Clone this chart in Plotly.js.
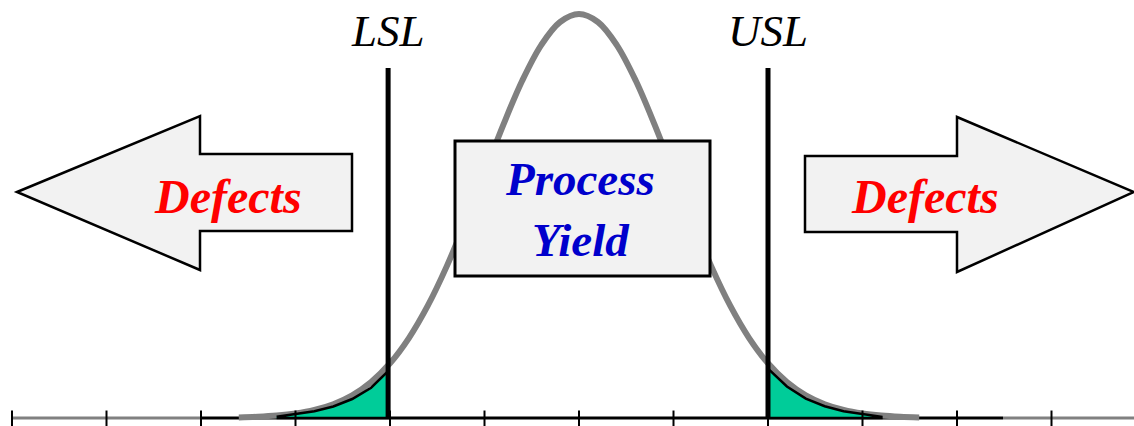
<!DOCTYPE html>
<html>
<head>
<meta charset="utf-8">
<script src="https://cdn.plot.ly/plotly-3.0.1.min.js"></script>
<style>html,body{margin:0;padding:0;background:#fff;}#chart{width:1134px;height:426px;}</style>
</head>
<body>
<div id="chart"></div>
<script>
// ---- data (x in sigma units, y relative to peak height) ----
var curveZ = [-3.6,-3.4,-3.2,-3.0,-2.8,-2.6,-2.4,-2.2,-2.0,-1.8,-1.6,-1.4,-1.2,-1.0,-0.8,-0.6,-0.4,-0.2,0,
              0.2,0.4,0.6,0.8,1.0,1.2,1.4,1.6,1.8,2.0,2.2,2.4,2.6,2.8,3.0,3.2,3.4,3.6];
var curveY = [0.0015,0.0031,0.0060,0.0111,0.0198,0.0340,0.0561,0.0889,0.1353,0.1979,0.2780,0.3753,0.4868,0.6065,0.7261,0.8353,0.9231,0.9802,1.0,
              0.9802,0.9231,0.8353,0.7261,0.6065,0.4868,0.3753,0.2780,0.1979,0.1353,0.0889,0.0561,0.0340,0.0198,0.0111,0.0060,0.0031,0.0015];
var leftTailZ  = [-3.2,-3.0,-2.8,-2.6,-2.4,-2.2,-2.02];
var leftTailY  = [0.003,0.0090,0.0165,0.0285,0.047,0.075,0.116];
var rightTailZ = [2.0,2.2,2.4,2.6,2.8,3.0,3.2];
var rightTailY = [0.122,0.078,0.048,0.029,0.0165,0.009,0.003];
var specLimits = [-2.02, 2.0];
var specLabels = ['LSL', 'USL'];
var tickZ = [-6,-5,-4,-3,-2,-1,0,1,2,3,4,5];
var defectsLabel = 'Defects';
var yieldLabel = 'Process<br>Yield';

// ---- pixel helpers for decorations ----
var W = 1134, H = 426;
var pxPerSigma = 94.5, zeroPx = 579, basePy = 418, peakPy = 14;
var pxPerUnitY = basePy - peakPy;
var xRange = [-zeroPx / pxPerSigma, (W - zeroPx) / pxPerSigma];
var yRange = [-(H - basePy) / pxPerUnitY, basePy / pxPerUnitY];
function fx(px){ return px / W; }
function fy(py){ return 1 - py / H; }
function zx(px){ return (px - zeroPx) / pxPerSigma; }
function pathOf(pts){
  return pts.map(function(p,i){ return (i ? 'L' : 'M') + fx(p[0]) + ',' + fy(p[1]); }).join(' ') + ' Z';
}
function closePoly(xs, ys){
  var X = xs.slice(), Y = ys.slice();
  X.push(xs[xs.length-1], xs[0]); Y.push(0, 0);
  return {x: X, y: Y};
}

var lp = closePoly(leftTailZ, leftTailY);
var rp = closePoly(rightTailZ, rightTailY);

var traces = [
  {x: curveZ, y: curveY, mode: 'lines', line: {color: '#808080', width: 6, shape: 'spline'}, hoverinfo: 'skip'},
  {x: lp.x, y: lp.y, mode: 'lines', fill: 'toself', fillcolor: '#00CC99', line: {color: '#000', width: 2.5, shape: 'linear'}, hoverinfo: 'skip'},
  {x: rp.x, y: rp.y, mode: 'lines', fill: 'toself', fillcolor: '#00CC99', line: {color: '#000', width: 2.5, shape: 'linear'}, hoverinfo: 'skip'},
  {x: tickZ, y: tickZ.map(function(){return -0.004;}), mode: 'markers',
   marker: {symbol: 'line-ns-open', size: 13, color: '#000', line: {color: '#000', width: 2}}, hoverinfo: 'skip'}
];

var shapes = [
  {type: 'line', xref: 'x', yref: 'y', x0: zx(12), x1: zx(201), y0: 0, y1: 0, line: {color: '#808080', width: 3}, layer: 'below'},
  {type: 'line', xref: 'x', yref: 'y', x0: zx(201), x1: zx(1003), y0: 0, y1: 0, line: {color: '#000', width: 3}, layer: 'below'},
  {type: 'line', xref: 'x', yref: 'y', x0: zx(1003), x1: zx(1134), y0: 0, y1: 0, line: {color: '#808080', width: 3}, layer: 'below'},
  // spec limit lines
  {type: 'line', xref: 'x', yref: 'y', x0: specLimits[0], x1: specLimits[0], y0: 0, y1: (basePy-68)/pxPerUnitY, line: {color: '#000', width: 5}},
  {type: 'line', xref: 'x', yref: 'y', x0: specLimits[1], x1: specLimits[1], y0: 0, y1: (basePy-68)/pxPerUnitY, line: {color: '#000', width: 5}},
  // arrows
  {type: 'path', xref: 'paper', yref: 'paper', fillcolor: '#F2F2F2', line: {color: '#000', width: 2.5},
   path: pathOf([[17,192],[200,116],[200,154],[352,154],[352,231],[200,231],[200,270]])},
  {type: 'path', xref: 'paper', yref: 'paper', fillcolor: '#F2F2F2', line: {color: '#000', width: 2.5},
   path: pathOf([[805,156],[957,156],[957,117],[1134,192],[957,272],[957,232],[805,232]])},
  // process yield box
  {type: 'rect', xref: 'paper', yref: 'paper', x0: fx(455), x1: fx(710), y0: fy(276), y1: fy(141),
   fillcolor: '#F2F2F2', line: {color: '#000', width: 3}}
];

var serifBI = function(size, color){ return {family: 'Liberation Serif, Times New Roman, serif', size: size, color: color, weight: 'bold', style: 'italic'}; };
var serifI = function(size){ return {family: 'Liberation Serif, Times New Roman, serif', size: size, color: '#000', style: 'italic'}; };

var annotations = [
  {xref: 'paper', yref: 'paper', x: fx(228), y: fy(196), text: defectsLabel, showarrow: false, xanchor: 'center', yanchor: 'middle', font: serifBI(48, '#FF0000')},
  {xref: 'paper', yref: 'paper', x: fx(925), y: fy(196), text: defectsLabel, showarrow: false, xanchor: 'center', yanchor: 'middle', font: serifBI(48, '#FF0000')},
  {xref: 'paper', yref: 'paper', x: fx(580), y: fy(209), text: yieldLabel, showarrow: false, xanchor: 'center', yanchor: 'middle', font: serifBI(47, '#0000CC')},
  {xref: 'x', yref: 'paper', x: specLimits[0], y: fy(31), text: specLabels[0], showarrow: false, xanchor: 'center', yanchor: 'middle', font: serifI(45)},
  {xref: 'x', yref: 'paper', x: specLimits[1], y: fy(31), text: specLabels[1], showarrow: false, xanchor: 'center', yanchor: 'middle', font: serifI(45)}
];

var layout = {
  width: W, height: H,
  margin: {l: 0, r: 0, t: 0, b: 0, pad: 0},
  paper_bgcolor: '#fff', plot_bgcolor: '#fff',
  showlegend: false,
  xaxis: {range: xRange, visible: false, fixedrange: true},
  yaxis: {range: yRange, visible: false, fixedrange: true},
  shapes: shapes,
  annotations: annotations
};

Plotly.newPlot('chart', traces, layout, {staticPlot: true, displayModeBar: false});
</script>
</body>
</html>
